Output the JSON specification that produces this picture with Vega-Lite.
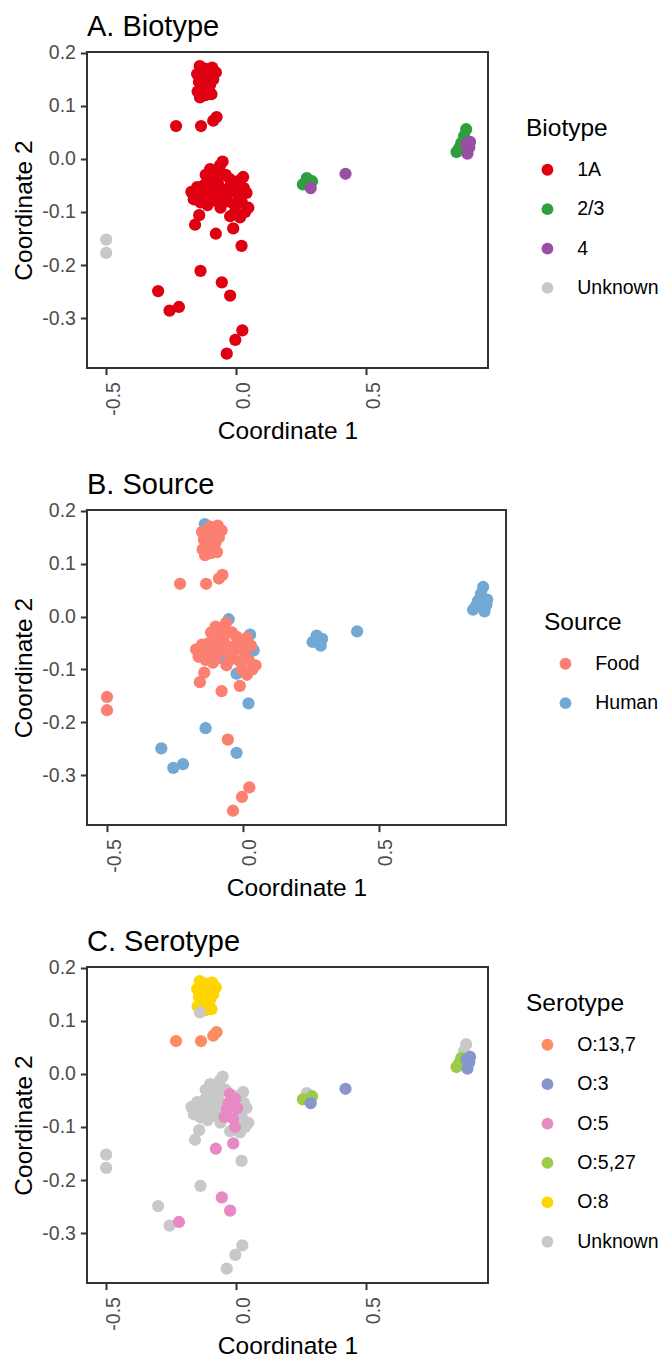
{
  "$schema": "https://vega.github.io/schema/vega-lite/v6.json",
  "padding": {"left": 10, "top": 11, "right": 0, "bottom": 0},
  "background": "white",
  "data": {"values": [
    {"x": -0.5, "y": -0.152, "Biotype": "Unknown", "Source": "Food", "Serotype": "Unknown"},
    {"x": -0.5, "y": -0.177, "Biotype": "Unknown", "Source": "Food", "Serotype": "Unknown"},
    {"x": -0.14, "y": 0.175, "Biotype": "1A", "Source": "Human", "Serotype": "O:8"},
    {"x": -0.12, "y": 0.170, "Biotype": "1A", "Source": "Food", "Serotype": "O:8"},
    {"x": -0.092, "y": 0.172, "Biotype": "1A", "Source": "Food", "Serotype": "O:8"},
    {"x": -0.078, "y": 0.163, "Biotype": "1A", "Source": "Food", "Serotype": "O:8"},
    {"x": -0.15, "y": 0.160, "Biotype": "1A", "Source": "Food", "Serotype": "O:8"},
    {"x": -0.132, "y": 0.158, "Biotype": "1A", "Source": "Food", "Serotype": "O:8"},
    {"x": -0.11, "y": 0.160, "Biotype": "1A", "Source": "Food", "Serotype": "O:8"},
    {"x": -0.088, "y": 0.150, "Biotype": "1A", "Source": "Food", "Serotype": "O:8"},
    {"x": -0.143, "y": 0.145, "Biotype": "1A", "Source": "Food", "Serotype": "O:8"},
    {"x": -0.122, "y": 0.145, "Biotype": "1A", "Source": "Food", "Serotype": "O:8"},
    {"x": -0.10, "y": 0.140, "Biotype": "1A", "Source": "Food", "Serotype": "O:8"},
    {"x": -0.135, "y": 0.130, "Biotype": "1A", "Source": "Food", "Serotype": "O:8"},
    {"x": -0.105, "y": 0.128, "Biotype": "1A", "Source": "Food", "Serotype": "O:8"},
    {"x": -0.148, "y": 0.127, "Biotype": "1A", "Source": "Food", "Serotype": "O:8"},
    {"x": -0.118, "y": 0.120, "Biotype": "1A", "Source": "Food", "Serotype": "O:8"},
    {"x": -0.095, "y": 0.122, "Biotype": "1A", "Source": "Food", "Serotype": "O:8"},
    {"x": -0.139, "y": 0.116, "Biotype": "1A", "Source": "Food", "Serotype": "Unknown"},
    {"x": -0.231, "y": 0.062, "Biotype": "1A", "Source": "Food", "Serotype": "O:13,7"},
    {"x": -0.135, "y": 0.062, "Biotype": "1A", "Source": "Food", "Serotype": "O:13,7"},
    {"x": -0.088, "y": 0.072, "Biotype": "1A", "Source": "Food", "Serotype": "O:13,7"},
    {"x": -0.075, "y": 0.079, "Biotype": "1A", "Source": "Food", "Serotype": "O:13,7"},
    {"x": -0.052, "y": -0.005, "Biotype": "1A", "Source": "Human", "Serotype": "Unknown"},
    {"x": 0.027, "y": -0.034, "Biotype": "1A", "Source": "Human", "Serotype": "Unknown"},
    {"x": 0.040, "y": -0.064, "Biotype": "1A", "Source": "Human", "Serotype": "Unknown"},
    {"x": -0.023, "y": -0.108, "Biotype": "1A", "Source": "Human", "Serotype": "Unknown"},
    {"x": -0.085, "y": -0.078, "Biotype": "1A", "Source": "Human", "Serotype": "Unknown"},
    {"x": -0.062, "y": -0.012, "Biotype": "1A", "Source": "Food", "Serotype": "Unknown"},
    {"x": -0.100, "y": -0.019, "Biotype": "1A", "Source": "Food", "Serotype": "Unknown"},
    {"x": -0.117, "y": -0.030, "Biotype": "1A", "Source": "Food", "Serotype": "Unknown"},
    {"x": -0.078, "y": -0.028, "Biotype": "1A", "Source": "Food", "Serotype": "Unknown"},
    {"x": -0.090, "y": -0.042, "Biotype": "1A", "Source": "Food", "Serotype": "Unknown"},
    {"x": -0.150, "y": -0.053, "Biotype": "1A", "Source": "Food", "Serotype": "Unknown"},
    {"x": -0.172, "y": -0.062, "Biotype": "1A", "Source": "Food", "Serotype": "Unknown"},
    {"x": -0.163, "y": -0.076, "Biotype": "1A", "Source": "Food", "Serotype": "Unknown"},
    {"x": -0.155, "y": -0.065, "Biotype": "1A", "Source": "Food", "Serotype": "Unknown"},
    {"x": -0.117, "y": -0.069, "Biotype": "1A", "Source": "Food", "Serotype": "Unknown"},
    {"x": -0.100, "y": -0.053, "Biotype": "1A", "Source": "Food", "Serotype": "Unknown"},
    {"x": -0.125, "y": -0.050, "Biotype": "1A", "Source": "Food", "Serotype": "Unknown"},
    {"x": -0.137, "y": -0.082, "Biotype": "1A", "Source": "Food", "Serotype": "Unknown"},
    {"x": -0.100, "y": -0.080, "Biotype": "1A", "Source": "Food", "Serotype": "Unknown"},
    {"x": -0.110, "y": -0.087, "Biotype": "1A", "Source": "Food", "Serotype": "Unknown"},
    {"x": -0.130, "y": -0.060, "Biotype": "1A", "Source": "Food", "Serotype": "Unknown"},
    {"x": -0.060, "y": -0.056, "Biotype": "1A", "Source": "Food", "Serotype": "Unknown"},
    {"x": -0.085, "y": -0.060, "Biotype": "1A", "Source": "Food", "Serotype": "Unknown"},
    {"x": -0.070, "y": -0.045, "Biotype": "1A", "Source": "Food", "Serotype": "Unknown"},
    {"x": -0.060, "y": -0.092, "Biotype": "1A", "Source": "Food", "Serotype": "Unknown"},
    {"x": 0.047, "y": -0.092, "Biotype": "1A", "Source": "Food", "Serotype": "Unknown"},
    {"x": 0.035, "y": -0.100, "Biotype": "1A", "Source": "Food", "Serotype": "Unknown"},
    {"x": 0.030, "y": -0.055, "Biotype": "1A", "Source": "Food", "Serotype": "Unknown"},
    {"x": 0.022, "y": -0.082, "Biotype": "1A", "Source": "Food", "Serotype": "Unknown"},
    {"x": 0.015, "y": -0.110, "Biotype": "1A", "Source": "Food", "Serotype": "Unknown"},
    {"x": -0.142, "y": -0.106, "Biotype": "1A", "Source": "Food", "Serotype": "Unknown"},
    {"x": -0.158, "y": -0.124, "Biotype": "1A", "Source": "Food", "Serotype": "Unknown"},
    {"x": 0.015, "y": -0.040, "Biotype": "1A", "Source": "Food", "Serotype": "Unknown"},
    {"x": -0.040, "y": -0.030, "Biotype": "1A", "Source": "Food", "Serotype": "Unknown"},
    {"x": -0.075, "y": -0.065, "Biotype": "1A", "Source": "Food", "Serotype": "Unknown"},
    {"x": -0.024, "y": -0.038, "Biotype": "1A", "Source": "Food", "Serotype": "O:5"},
    {"x": -0.004, "y": -0.047, "Biotype": "1A", "Source": "Food", "Serotype": "O:5"},
    {"x": -0.029, "y": -0.055, "Biotype": "1A", "Source": "Food", "Serotype": "O:5"},
    {"x": 0.004, "y": -0.065, "Biotype": "1A", "Source": "Food", "Serotype": "O:5"},
    {"x": -0.035, "y": -0.066, "Biotype": "1A", "Source": "Food", "Serotype": "O:5"},
    {"x": -0.045, "y": -0.081, "Biotype": "1A", "Source": "Food", "Serotype": "O:5"},
    {"x": -0.012, "y": -0.084, "Biotype": "1A", "Source": "Food", "Serotype": "O:5"},
    {"x": -0.004, "y": -0.100, "Biotype": "1A", "Source": "Food", "Serotype": "O:5"},
    {"x": -0.078, "y": -0.141, "Biotype": "1A", "Source": "Food", "Serotype": "O:5"},
    {"x": -0.011, "y": -0.131, "Biotype": "1A", "Source": "Food", "Serotype": "O:5"},
    {"x": -0.055, "y": -0.2325, "Biotype": "1A", "Source": "Food", "Serotype": "O:5"},
    {"x": -0.137, "y": -0.211, "Biotype": "1A", "Source": "Human", "Serotype": "Unknown"},
    {"x": -0.300, "y": -0.249, "Biotype": "1A", "Source": "Human", "Serotype": "Unknown"},
    {"x": -0.256, "y": -0.286, "Biotype": "1A", "Source": "Human", "Serotype": "Unknown"},
    {"x": -0.220, "y": -0.279, "Biotype": "1A", "Source": "Human", "Serotype": "O:5"},
    {"x": -0.023, "y": -0.2575, "Biotype": "1A", "Source": "Human", "Serotype": "O:5"},
    {"x": 0.024, "y": -0.323, "Biotype": "1A", "Source": "Food", "Serotype": "Unknown"},
    {"x": -0.003, "y": -0.341, "Biotype": "1A", "Source": "Food", "Serotype": "Unknown"},
    {"x": -0.036, "y": -0.367, "Biotype": "1A", "Source": "Food", "Serotype": "Unknown"},
    {"x": 0.021, "y": -0.164, "Biotype": "1A", "Source": "Human", "Serotype": "Unknown"},
    {"x": 0.272, "y": -0.036, "Biotype": "2/3", "Source": "Human", "Serotype": "Unknown"},
    {"x": 0.257, "y": -0.048, "Biotype": "2/3", "Source": "Human", "Serotype": "O:5,27"},
    {"x": 0.292, "y": -0.042, "Biotype": "2/3", "Source": "Human", "Serotype": "O:5,27"},
    {"x": 0.287, "y": -0.055, "Biotype": "4", "Source": "Human", "Serotype": "O:3"},
    {"x": 0.421, "y": -0.028, "Biotype": "4", "Source": "Human", "Serotype": "O:3"},
    {"x": 0.885, "y": 0.056, "Biotype": "2/3", "Source": "Human", "Serotype": "Unknown"},
    {"x": 0.877, "y": 0.043, "Biotype": "2/3", "Source": "Human", "Serotype": "Unknown"},
    {"x": 0.866, "y": 0.030, "Biotype": "2/3", "Source": "Human", "Serotype": "O:5,27"},
    {"x": 0.858, "y": 0.020, "Biotype": "2/3", "Source": "Human", "Serotype": "O:5,27"},
    {"x": 0.848, "y": 0.013, "Biotype": "2/3", "Source": "Human", "Serotype": "O:5,27"},
    {"x": 0.886, "y": 0.028, "Biotype": "4", "Source": "Human", "Serotype": "O:3"},
    {"x": 0.897, "y": 0.022, "Biotype": "4", "Source": "Human", "Serotype": "O:3"},
    {"x": 0.890, "y": 0.010, "Biotype": "4", "Source": "Human", "Serotype": "O:3"},
    {"x": 0.900, "y": 0.032, "Biotype": "4", "Source": "Human", "Serotype": "O:3"}
  ]},
  "spacing": 25,
  "resolve": {"scale": {"color": "independent"}, "legend": {"color": "independent"}},
  "vconcat": [
    {
      "title": {"text": "A. Biotype"},
      "width": 401, "height": 316,
      "mark": {"type": "point", "filled": true, "size": 150, "opacity": 1},
      "encoding": {
        "x": {"field": "x", "type": "quantitative", "title": "Coordinate 1",
              "scale": {"domain": [-0.5737, 0.9692], "nice": false, "zero": false},
              "axis": {"values": [-0.5, 0, 0.5], "labelExpr": "datum.value < 0 ? '-' + format(-datum.value, '.1f') : format(datum.value, '.1f')"}},
        "y": {"field": "y", "type": "quantitative", "title": "Coordinate 2",
              "scale": {"domain": [-0.394, 0.2015], "nice": false, "zero": false},
              "axis": {"values": [-0.3, -0.2, -0.1, 0, 0.1, 0.2], "labelExpr": "datum.value < 0 ? '-' + format(-datum.value, '.1f') : format(datum.value, '.1f')"}},
        "color": {"field": "Biotype", "type": "nominal",
                  "scale": {"domain": ["1A", "2/3", "4", "Unknown"], "range": ["#DF0012", "#2F9E3F", "#984EA3", "#C8C8C8"]},
                  "legend": {"legendX": 439, "legendY": 65}}
      }
    },
    {
      "title": {"text": "B. Source"},
      "width": 419, "height": 315,
      "mark": {"type": "point", "filled": true, "size": 150, "opacity": 1},
      "encoding": {
        "x": {"field": "x", "type": "quantitative", "title": "Coordinate 1",
              "scale": {"domain": [-0.5737, 0.9692], "nice": false, "zero": false},
              "axis": {"values": [-0.5, 0, 0.5], "labelExpr": "datum.value < 0 ? '-' + format(-datum.value, '.1f') : format(datum.value, '.1f')"}},
        "y": {"field": "y", "type": "quantitative", "title": "Coordinate 2",
              "scale": {"domain": [-0.394, 0.2015], "nice": false, "zero": false},
              "axis": {"values": [-0.3, -0.2, -0.1, 0, 0.1, 0.2], "labelExpr": "datum.value < 0 ? '-' + format(-datum.value, '.1f') : format(datum.value, '.1f')"}},
        "color": {"field": "Source", "type": "nominal",
                  "scale": {"domain": ["Food", "Human"], "range": ["#FB8072", "#72A8D4"]},
                  "legend": {"legendX": 457, "legendY": 101}}
      }
    },
    {
      "title": {"text": "C. Serotype"},
      "width": 401, "height": 316,
      "mark": {"type": "point", "filled": true, "size": 150, "opacity": 1},
      "encoding": {
        "x": {"field": "x", "type": "quantitative", "title": "Coordinate 1",
              "scale": {"domain": [-0.5737, 0.9692], "nice": false, "zero": false},
              "axis": {"values": [-0.5, 0, 0.5], "labelExpr": "datum.value < 0 ? '-' + format(-datum.value, '.1f') : format(datum.value, '.1f')"}},
        "y": {"field": "y", "type": "quantitative", "title": "Coordinate 2",
              "scale": {"domain": [-0.394, 0.2015], "nice": false, "zero": false},
              "axis": {"values": [-0.3, -0.2, -0.1, 0, 0.1, 0.2], "labelExpr": "datum.value < 0 ? '-' + format(-datum.value, '.1f') : format(datum.value, '.1f')"}},
        "color": {"field": "Serotype", "type": "nominal",
                  "scale": {"domain": ["O:13,7", "O:3", "O:5", "O:5,27", "O:8", "Unknown"], "range": ["#FC8D62", "#8797CB", "#E78AC3", "#9CCB45", "#FFD500", "#C8C8C8"]},
                  "legend": {"legendX": 439, "legendY": 25}}
      }
    }
  ],
  "config": {
    "font": "Liberation Sans",
    "view": {"stroke": "#333333", "strokeWidth": 2},
    "axis": {"grid": false, "domain": false, "tickColor": "#333333", "tickWidth": 2, "tickSize": 6.6,
             "labelFont": "Liberation Sans", "labelFontSize": 19.5, "labelColor": "#4D4D4D",
             "titleFont": "Liberation Sans", "titleFontSize": 24.5, "titleFontWeight": "normal", "titleColor": "#000000",
             "labelOverlap": false, "labelFlush": false},
    "axisX": {"labelAngle": -90, "labelPadding": 7, "labelOffset": 7, "titlePadding": 4},
    "axisY": {"labelPadding": 5, "titlePadding": 5},
    "legend": {"orient": "none", "titleFont": "Liberation Sans", "titleFontSize": 24.5, "titleFontWeight": "normal", "titleColor": "#000000",
               "labelFont": "Liberation Sans", "labelFontSize": 19.5, "labelColor": "#000000",
               "symbolSize": 139, "symbolType": "circle", "rowPadding": 18.4, "titlePadding": 18.5,
               "labelOffset": 20, "symbolOffset": 11.7, "padding": 0},
    "title": {"font": "Liberation Sans", "fontSize": 29, "fontWeight": "normal", "anchor": "start", "frame": "group", "color": "#000000", "offset": 1, "baseline": "alphabetic"}
  }
}
